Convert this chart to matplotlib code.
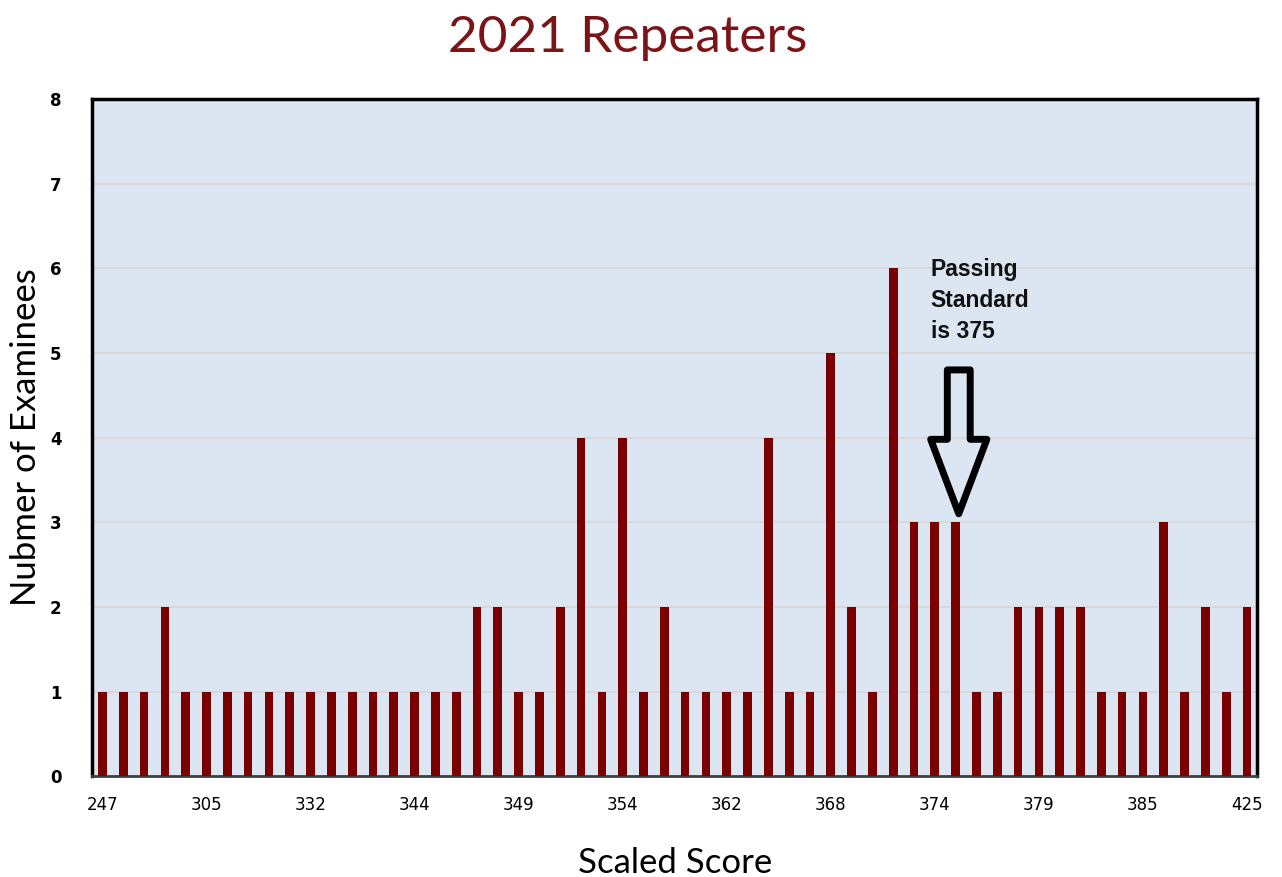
import matplotlib
matplotlib.use("Agg")
import matplotlib.pyplot as plt
from matplotlib.patches import Polygon

# counts of examinees per scaled score (56 score bins, left to right)
COUNTS = [1, 1, 1, 2, 1, 1, 1, 1, 1, 1,
          1, 1, 1, 1, 1, 1, 1, 1, 2, 2,
          1, 1, 2, 4, 1, 4, 1, 2, 1, 1,
          1, 1, 4, 1, 1, 5, 2, 1, 6, 3,
          3, 3, 1, 1, 2, 2, 2, 2, 1, 1,
          1, 3, 1, 2, 1, 2]
# Excel shows every 5th category label
TICK_LABELS = ["247", "305", "332", "344", "349", "354",
               "362", "368", "374", "379", "385", "425"]
TICK_STEP = 5
PASS_INDEX = 41  # bar for score 375

BAR_COLOR = "#7a0000"
BG = "#dce6f2"

fig = plt.figure(figsize=(12.82, 8.77), dpi=100)
ax = fig.add_axes([0.0718, 0.115, 0.909, 0.772])
ax.set_facecolor(BG)

x = list(range(len(COUNTS)))
ax.bar(x, COUNTS, width=0.42, color=BAR_COLOR, zorder=3)

ax.set_xlim(-0.5, len(COUNTS) - 0.5)
ax.set_ylim(0, 8)
ax.set_yticks(range(0, 9))
ax.set_xticks(x[::TICK_STEP])
ax.set_xticklabels(TICK_LABELS, fontsize=12, family="DejaVu Sans")
for lab in ax.get_yticklabels():
    lab.set_fontsize(12)
    lab.set_fontweight("bold")
ax.tick_params(axis="both", length=0, pad=14)
ax.tick_params(axis="y", pad=22)

ax.grid(axis="y", color="#d8d4d4", linewidth=1.2, zorder=0)
ax.set_axisbelow(True)
for side in ["left", "top", "right"]:
    ax.spines[side].set_linewidth(2.5)
    ax.spines[side].set_color("black")
ax.spines["bottom"].set_linewidth(2)
ax.spines["bottom"].set_color("#404040")

ax.set_xlabel("Scaled Score", fontsize=25, family="Lato", labelpad=24)
ax.set_ylabel("Nubmer of Examinees", fontsize=25, family="Lato", labelpad=6)
fig.suptitle("2021 Repeaters", fontsize=37, family="Lato", color="#7b1416",
             x=0.49, y=0.983)

# block arrow pointing at the passing standard
cx = PASS_INDEX + 0.15
arrow = Polygon([(cx - 0.55, 4.8), (cx + 0.55, 4.8), (cx + 0.55, 3.98),
                 (cx + 1.35, 3.98), (cx, 3.1), (cx - 1.35, 3.98),
                 (cx - 0.55, 3.98)],
                closed=True, fill=False, edgecolor="black", linewidth=5,
                joinstyle="round", zorder=5)
ax.add_patch(arrow)
ax.text(PASS_INDEX - 1.2, 6.12, "Passing\nStandard\nis 375", fontsize=16.5,
        fontweight="bold", family=["Liberation Sans Narrow", "Liberation Sans"],
        va="top", ha="left", linespacing=1.45, color="#111111", zorder=6)

fig.savefig("out.png", dpi=100)
